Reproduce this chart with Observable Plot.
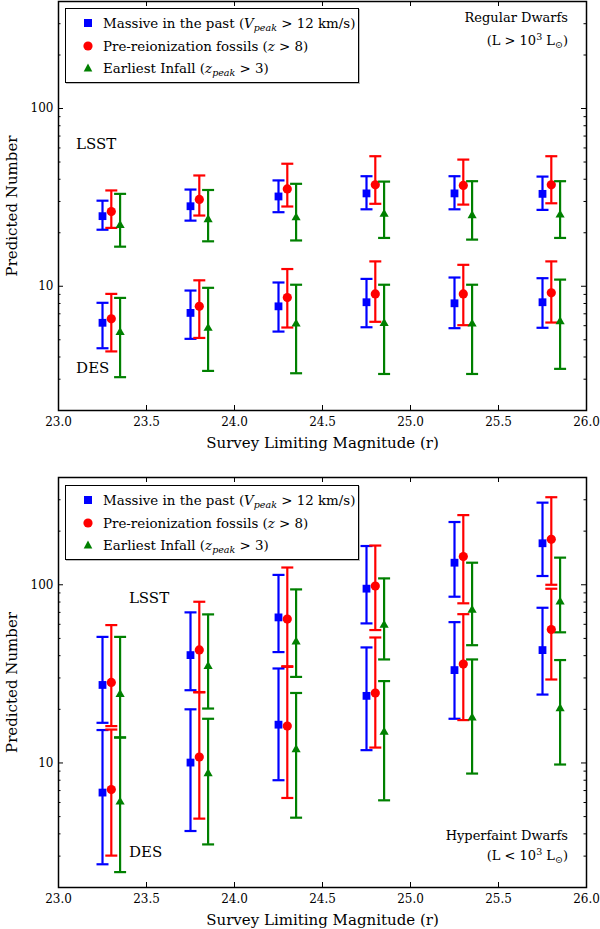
<!DOCTYPE html>
<html><head><meta charset="utf-8">
<script src="https://cdn.jsdelivr.net/npm/d3@7"></script>
<script src="https://cdn.jsdelivr.net/npm/@observablehq/plot@0.6"></script>
<style>
body{margin:0;background:#fff;font-family:"DejaVu Serif",serif;color:#000;}
#wrap{position:relative;width:600px;height:929px;overflow:hidden;}
#wrap svg{display:block;overflow:visible;}
.legend{position:absolute;left:65px;width:294px;height:75px;border:1.3px solid #000;background:#fff;box-sizing:border-box;font-size:13.4px;box-shadow:1px 1px 0 #bbb;}
.row{position:absolute;left:0;height:22px;display:flex;align-items:center;white-space:nowrap;}
.row svg{position:absolute;left:15px;top:4px;}
.row span{position:absolute;left:37px;}
sub{font-size:9.5px;vertical-align:-3px;line-height:0;}
sup{font-size:9.5px;vertical-align:5px;line-height:0;}
.corner{position:absolute;right:32px;text-align:right;font-size:13px;}
</style></head>
<body><div id="wrap"><div id="top"></div><div id="bot"></div></div>
<script>
// ---- data ----
const xTicks = [23.0, 23.5, 24.0, 24.5, 25.0, 25.5, 26.0];
const yMajor = [10, 100];
const yMinor = [3, 4, 5, 6, 7, 8, 9, 20, 30, 40, 50, 60, 70, 80, 90, 200, 300];
const xMassive = [23.25, 23.75, 24.25, 24.75, 25.25, 25.75];
const xFossil  = [23.30, 23.80, 24.30, 24.80, 25.30, 25.80];
const xInfall  = [23.35, 23.85, 24.35, 24.85, 25.35, 25.85];
const seriesNames = ["Massive in the past", "Pre-reionization fossils", "Earliest Infall"];
const surveyNames = ["LSST", "DES"];

// [value, lower, upper]
const regularLsstMassive = [[24.8,20.8,30.3],[28.2,23.4,35.0],[32.0,26.1,39.4],[33.3,27.1,41.6],[33.3,27.1,41.6],[33.1,26.9,41.4]];
const regularLsstFossil  = [[26.3,21.3,34.6],[30.8,25.0,42.0],[35.3,28.1,48.9],[37.2,29.1,53.9],[36.9,28.8,51.6],[37.2,29.3,53.9]];
const regularLsstInfall  = [[22.0,16.7,33.1],[23.7,17.9,34.8],[24.3,18.1,37.7],[25.5,18.7,38.8],[25.0,18.3,39.0],[25.2,18.7,39.0]];
const regularDesMassive  = [[6.23,4.48,8.07],[7.08,5.06,9.46],[7.71,5.56,10.5],[8.13,5.88,11.0],[8.02,5.81,11.2],[8.13,5.84,11.1]];
const regularDesFossil   = [[6.56,4.30,9.06],[7.71,5.12,10.8],[8.64,5.86,12.5],[9.06,6.31,13.8],[9.06,6.04,13.2],[9.18,6.25,13.8]];
const regularDesInfall   = [[5.51,3.08,8.60],[5.81,3.34,9.80],[6.14,3.24,10.2],[6.19,3.21,10.2],[6.14,3.21,10.2],[6.33,3.43,10.9]];

const faintLsstMassive = [[27.4,16.8,51.0],[40.3,25.6,70.0],[65.6,41.9,113.6],[95.1,60.7,165],[133,85.7,225],[171,112,289]];
const faintLsstFossil  = [[28.3,16.1,59.4],[43.1,24.9,80.3],[64.2,34.6,125],[98.4,55.7,166],[144,78.7,246],[180,100,310]];
const faintLsstInfall  = [[24.3,13.9,51.0],[34.9,20.2,68.2],[47.9,30.4,94.2],[59.4,38.1,108.6],[72.1,45.8,133],[80.3,54.1,142]];
const faintDesMassive  = [[6.82,2.70,15.3],[10.05,4.15,20.0],[16.4,8.0,33.9],[23.8,11.8,44.5],[33.2,17.7,61.7],[43.0,24.2,74.3]];
const faintDesFossil   = [[7.09,3.02,15.4],[10.8,4.87,25.0],[16.1,6.36,34.9],[24.7,12.2,50.6],[35.9,17.4,68.4],[56.1,29.4,95]];
const faintDesInfall   = [[6.04,2.44,13.9],[8.72,3.49,17.7],[11.9,4.93,24.7],[14.9,6.17,28.8],[17.9,8.72,38.1],[20.2,9.80,37.8]];

// survey label anchor positions (data units)
const regularLabelX = [23.1, 23.1], regularLabelY = [59, 3.23];
const faintLabelX = [23.4, 23.4], faintLabelY = [79, 2.95];

// ---- drawing ----
const FONT = "DejaVu Serif, serif";
const COL = {massive: "#0000ff", fossil: "#ff0000", infall: "#008000"};
const cap = {draw(ctx, size) { const r = Math.sqrt(size / Math.PI); ctx.moveTo(-r, 0); ctx.lineTo(r, 0); }};

function seriesMarks(xs, data, color, symbol, r) {
  const rows = data.map((d, i) => ({x: xs[i], v: d[0], lo: d[1], hi: d[2]}));
  return [
    Plot.ruleX(rows, {x: "x", y1: "lo", y2: "hi", stroke: color, strokeWidth: 2.2}),
    Plot.dot(rows, {x: "x", y: "lo", symbol: cap, r: 6, stroke: color, strokeWidth: 2.2}),
    Plot.dot(rows, {x: "x", y: "hi", symbol: cap, r: 6, stroke: color, strokeWidth: 2.2}),
    Plot.dot(rows, {x: "x", y: "v", symbol: symbol, r: r, fill: color, stroke: "none"})
  ];
}

function makePanel(cfg) {
  const W = 600, ML = 58, MR = 14;
  const innerW = W - ML - MR;
  const innerH = cfg.height - cfg.mt - cfg.mb;
  const labels = surveyNames.map((s, i) => ({s, x: cfg.labelX[i], y: cfg.labelY[i]}));
  const marks = [
    Plot.axisX({ticks: xTicks, tickFormat: d3.format(".1f"), tickSize: 0, tickPadding: 7, fontSize: 12, label: null}),
    Plot.axisY({ticks: yMajor, tickFormat: d => String(d), tickSize: 0, tickPadding: 5, fontSize: 12, label: null}),
    // inward ticks
    Plot.tickX(xTicks, {x: d => d, insetTop: innerH - 5, stroke: "black"}),
    Plot.tickX(xTicks, {x: d => d, insetBottom: innerH - 5, stroke: "black"}),
    Plot.tickY(yMajor, {y: d => d, insetRight: innerW - 5, stroke: "black"}),
    Plot.tickY(yMajor, {y: d => d, insetLeft: innerW - 5, stroke: "black"}),
    Plot.tickY(yMinor, {y: d => d, insetRight: innerW - 2.5, stroke: "black"}),
    Plot.tickY(yMinor, {y: d => d, insetLeft: innerW - 2.5, stroke: "black"}),
    ...seriesMarks(xMassive, cfg.lsst[0], COL.massive, "square", 4.4),
    ...seriesMarks(xFossil, cfg.lsst[1], COL.fossil, "circle", 4.6),
    ...seriesMarks(xInfall, cfg.lsst[2], COL.infall, "triangle", 3.4),
    ...seriesMarks(xMassive, cfg.des[0], COL.massive, "square", 4.4),
    ...seriesMarks(xFossil, cfg.des[1], COL.fossil, "circle", 4.6),
    ...seriesMarks(xInfall, cfg.des[2], COL.infall, "triangle", 3.4),
    Plot.text(labels, {x: "x", y: "y", text: "s", textAnchor: "start", lineAnchor: "bottom", fontSize: 15, fill: "black"}),
    Plot.text(["Survey Limiting Magnitude (r)"], {frameAnchor: "bottom", dy: 33, text: d => d, fontSize: 15, lineAnchor: "middle", textAnchor: "middle"}),
    Plot.text(["Predicted Number"], {frameAnchor: "left", dx: -46, rotate: -90, text: d => d, fontSize: 15, lineAnchor: "middle", textAnchor: "middle"}),
    Plot.frame({stroke: "black", strokeWidth: 1.5})
  ];
  return Plot.plot({
    width: W, height: cfg.height,
    marginTop: cfg.mt, marginBottom: cfg.mb, marginLeft: ML, marginRight: MR,
    x: {domain: [23, 26]},
    y: {type: "log", domain: [2, 400]},
    style: {fontFamily: FONT, fontSize: "12px", color: "black", background: "white", overflow: "visible"},
    marks
  });
}

document.getElementById("top").append(makePanel({
  height: 460, mt: 1, mb: 50,
  lsst: [regularLsstMassive, regularLsstFossil, regularLsstInfall],
  des: [regularDesMassive, regularDesFossil, regularDesInfall],
  labelX: regularLabelX, labelY: regularLabelY
}));
document.getElementById("bot").append(makePanel({
  height: 469, mt: 17, mb: 42,
  lsst: [faintLsstMassive, faintLsstFossil, faintLsstInfall],
  des: [faintDesMassive, faintDesFossil, faintDesInfall],
  labelX: faintLabelX, labelY: faintLabelY
}));

// ---- legends and annotations (HTML overlay) ----
function legendHTML(top) {
  const sq = `<svg width="14" height="14"><rect x="3" y="3" width="8" height="8" fill="${COL.massive}"/></svg>`;
  const ci = `<svg width="14" height="14"><circle cx="7" cy="7" r="4.6" fill="${COL.fossil}"/></svg>`;
  const tr = `<svg width="14" height="14"><path d="M7,2.6L11.3,10.6L2.7,10.6Z" fill="${COL.infall}"/></svg>`;
  return `<div class="legend" style="top:${top}px">
    <div class="row" style="top:3px">${sq}<span>${seriesNames[0]} (<i>V</i><sub><i>peak</i></sub> &gt; 12 km/s)</span></div>
    <div class="row" style="top:26px">${ci}<span>${seriesNames[1]} (<i>z</i> &gt; 8)</span></div>
    <div class="row" style="top:48px">${tr}<span>${seriesNames[2]} (<i>z</i><sub><i>peak</i></sub> &gt; 3)</span></div>
  </div>`;
}
const wrap = document.getElementById("wrap");
wrap.insertAdjacentHTML("beforeend", legendHTML(8));
wrap.insertAdjacentHTML("beforeend", legendHTML(485));
wrap.insertAdjacentHTML("beforeend",
  `<div class="corner" style="top:6px;line-height:23px">Regular Dwarfs<br>(L &gt; 10<sup>3</sup> L<sub>⊙</sub>)</div>`);
wrap.insertAdjacentHTML("beforeend",
  `<div class="corner" style="top:826px;line-height:20px">Hyperfaint Dwarfs<br>(L &lt; 10<sup>3</sup> L<sub>⊙</sub>)</div>`);
</script>
</body></html>
